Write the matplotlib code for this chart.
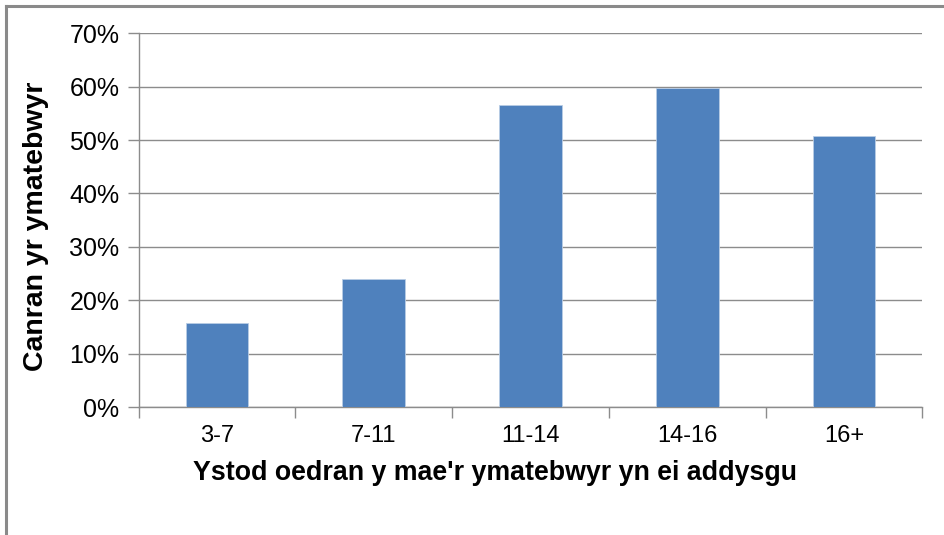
import matplotlib
import matplotlib.pyplot as plt
import numpy as np
from matplotlib.lines import Line2D
from matplotlib.ticker import FixedLocator, PercentFormatter

matplotlib.use("Agg")

age_ranges = ["3-7", "7-11", "11-14", "14-16", "16+"]
share_pct = [15.8, 24.0, 56.6, 59.7, 50.8]
y_ticks = [0, 10, 20, 30, 40, 50, 60, 70]

plt.rcParams["font.family"] = ["Liberation Sans", "DejaVu Sans"]

fig = plt.figure(figsize=(9.44, 5.35), dpi=100, facecolor="white")
ax = fig.add_axes([0.147, 0.239, 0.83, 0.699])

x = np.arange(len(age_ranges))
ax.bar(x, share_pct, width=0.4, color="#4F81BD", edgecolor="#B9CDE5", linewidth=0.6, zorder=3)

ax.set_xlim(-0.5, len(age_ranges) - 0.5)
ax.set_ylim(0, 70)
ax.set_yticks(y_ticks)
ax.yaxis.set_major_formatter(PercentFormatter(decimals=0))
ax.grid(axis="y", color="#8C8C8C", linewidth=1.0, zorder=0)

ax.set_xticks(x, age_ranges)
ax.xaxis.set_minor_locator(FixedLocator(np.arange(len(age_ranges) + 1) - 0.5))
ax.tick_params(axis="x", which="major", length=0, pad=13, labelsize=17)
ax.tick_params(axis="x", which="minor", length=8, color="#8C8C8C", width=1.0)
ax.tick_params(axis="y", length=8, color="#8C8C8C", width=1.0, pad=6, labelsize=18)

for side in ("top", "right"):
    ax.spines[side].set_visible(False)
for side in ("left", "bottom"):
    ax.spines[side].set_color("#8C8C8C")
    ax.spines[side].set_linewidth(1.0)

ax.set_xlabel("Ystod oedran y mae'r ymatebwyr yn ei addysgu", fontsize=19.3,
              fontweight="bold")
ax.xaxis.set_label_coords(0.4545, -0.142)
ax.set_ylabel("Canran yr ymatebwyr", fontsize=20.5, fontweight="bold")
ax.yaxis.set_label_coords(-0.114, 0.484)

# chart frame, only top and left edges are inside the crop
fig.add_artist(Line2D([5.5 / 944, 1.0], [1 - 5.5 / 535] * 2, transform=fig.transFigure,
                      color="#8A8A8A", linewidth=2.2))
fig.add_artist(Line2D([5.5 / 944] * 2, [0.0, 1 - 5.5 / 535], transform=fig.transFigure,
                      color="#8A8A8A", linewidth=2.2))

fig.savefig("out.png", dpi=100, facecolor="white")
